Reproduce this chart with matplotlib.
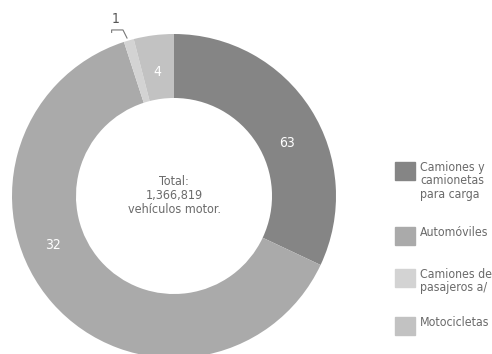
import matplotlib.pyplot as plt
from matplotlib.patches import Rectangle

plt.rcParams['font.family'] = ['DejaVu Sans']
plt.rcParams['font.stretch'] = 'condensed'

categorias = ["Camiones y\ncamionetas\npara carga", "Automóviles",
              "Camiones de\npasajeros a/", "Motocicletas"]
porcentajes = [32, 63, 1, 4]
etiquetas = ["63", "32", "1", "4"]
colores = ["#858585", "#aaaaaa", "#d3d3d3", "#c2c2c2"]
total = "1,366,819"

fig = plt.figure(figsize=(4.92, 3.54), dpi=100)
W, H = 492, 354
cx, cy, r = 174, 196, 162
ax = fig.add_axes([(cx - r) / W, 1 - (cy + r) / H, 2 * r / W, 2 * r / H])

ax.pie(porcentajes, colors=colores, startangle=90, counterclock=False,
       radius=1, wedgeprops=dict(width=0.395, edgecolor="none"))
ax.set_xlim(-1, 1)
ax.set_ylim(-1, 1)
ax.set_aspect("equal")
ax.axis("off")

# etiquetas de los sectores (tal como aparecen en la imagen)
pos = [(0.70, 0.33), (-0.75, -0.30), (-0.36, 1.09), (-0.105, 0.765)]
for (x, y), t, c in zip(pos, etiquetas, ["white", "white", "#555555", "white"]):
    ax.text(x, y, t, ha="center", va="center", fontsize=10, color=c,
            clip_on=False)
ax.plot([-0.385, -0.385, -0.315, -0.29], [1.01, 1.025, 1.025, 0.975],
        color="#777777", lw=0.8, clip_on=False)

ax.text(0, 0.0, "Total:\n" + total + "\nvehículos motor.", ha="center",
        va="center", fontsize=9, color="#6a6a6a", linespacing=1.1)

# leyenda
tops = [162, 227, 269, 317]
for top, lab, col in zip(tops, categorias, colores):
    fig.patches.append(Rectangle((395 / W, 1 - (top + 18) / H), 20 / W, 18 / H,
                                 transform=fig.transFigure, color=col))
    fig.text(420 / W, 1 - (top - 1) / H, lab, ha="left", va="top",
             fontsize=8.8, color="#6a6a6a", linespacing=1.05)

plt.savefig("out.png", dpi=100)
